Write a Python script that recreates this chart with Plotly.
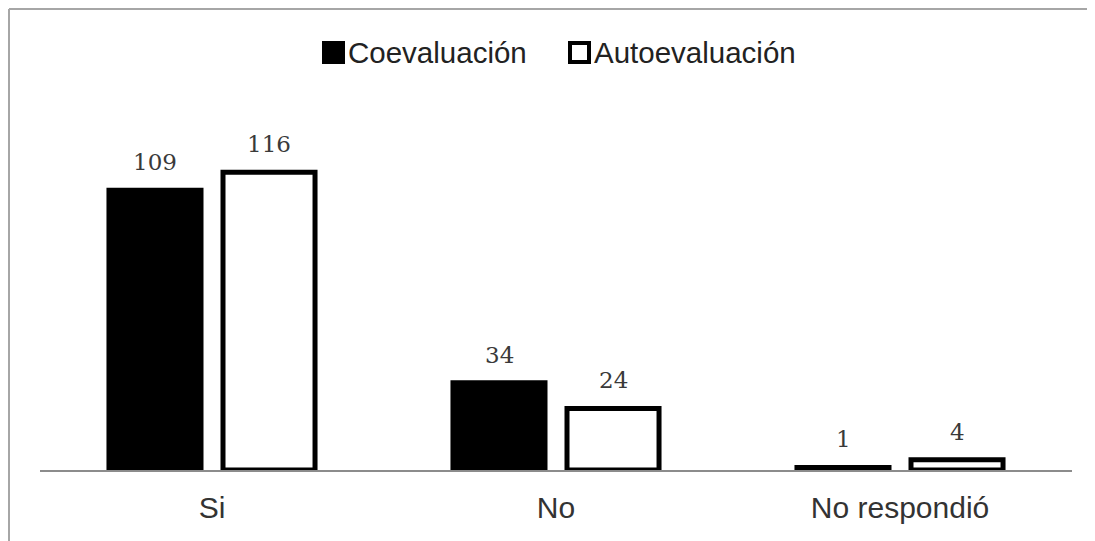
import plotly.graph_objects as go

categories = ["Si", "No", "No respondió"]
coevaluacion = [109, 34, 1]
autoevaluacion = [116, 24, 4]
series_names = ["Coevaluación", "Autoevaluación"]

# page is offset by the 8px body margin, so figure is 8px smaller
W, H = 1087, 533
ML, MR, MT, MB = 32, 23, 72, 71
YMAX = 152
pw = W - ML - MR
ph = H - MT - MB


def px(xp):  # page x pixel -> paper
    return (xp - 8 - ML) / pw


def py(yp):  # page y pixel -> paper
    return (H - MB - (yp - 8)) / ph


fig = go.Figure()
fig.add_trace(go.Bar(
    x=categories, y=coevaluacion, name=series_names[0],
    marker=dict(color="black", line=dict(color="black", width=5)),
))
fig.add_trace(go.Bar(
    x=categories, y=autoevaluacion, name=series_names[1],
    marker=dict(color="white", line=dict(color="black", width=5)),
))

annotations = []
for vals, dx in ((coevaluacion, -57), (autoevaluacion, 57)):
    for c, v in zip(categories, vals):
        annotations.append(dict(
            x=c, y=v, xref="x", yref="y", text=str(v), showarrow=False,
            xshift=dx, yshift=13, yanchor="bottom",
            font=dict(family="DejaVu Serif", size=23, color="#3a3a3a"),
        ))

# manual legend
legend_items = [
    (series_names[0], "black", 322),
    (series_names[1], "white", 568),
]
shapes = []
for name, fill, x0p in legend_items:
    shapes.append(dict(type="rect", xref="paper", yref="paper",
                       x0=px(x0p + 2), x1=px(x0p + 21), y0=py(43), y1=py(62),
                       fillcolor=fill, line=dict(color="black", width=4)))
    annotations.append(dict(x=px(x0p + 24), y=py(52), xref="paper", yref="paper",
                            text=name, showarrow=False, xanchor="left", yanchor="middle",
                            font=dict(family="Liberation Sans, Arial, sans-serif",
                                      size=29.5, color="#222222")))

# outer frame (top and left edges visible)
shapes += [
    dict(type="line", xref="paper", yref="paper", x0=px(9), x1=px(1100), y0=py(9), y1=py(9),
         line=dict(color="#a6a6a6", width=2)),
    dict(type="line", xref="paper", yref="paper", x0=px(9), x1=px(9), y0=py(9), y1=py(545),
         line=dict(color="#a6a6a6", width=2)),
]

fig.update_layout(
    width=W, height=H,
    margin=dict(l=ML, r=MR, t=MT, b=MB),
    paper_bgcolor="white", plot_bgcolor="white",
    barmode="group", bargap=0.337, bargroupgap=0.193,
    font=dict(family="Liberation Sans, Arial, sans-serif", size=30, color="#333333"),
    showlegend=False,
    annotations=annotations,
    shapes=shapes,
    xaxis=dict(showline=True, linecolor="#8c8c8c", linewidth=2, showgrid=False,
               ticks="", ticklabelstandoff=10, tickfont=dict(size=30, color="#333333"),
               zeroline=False),
    yaxis=dict(range=[0, YMAX], visible=False, showgrid=False, zeroline=False),
)

fig.write_html("out.html")
